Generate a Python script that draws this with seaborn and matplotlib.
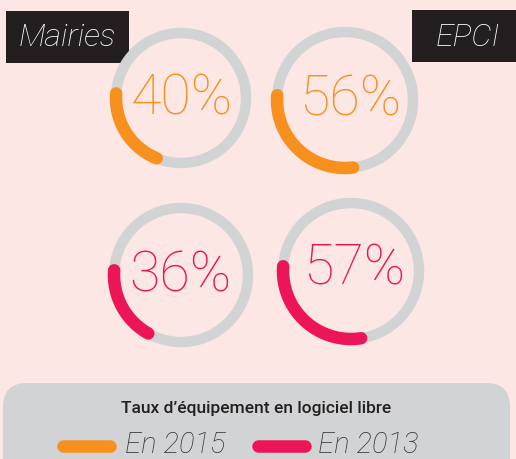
import numpy as np
import pandas as pd
import matplotlib
matplotlib.use("Agg")
import matplotlib.pyplot as plt
from matplotlib.patches import FancyBboxPatch, Rectangle
import seaborn as sns

# ---- data ----
groups = ["Mairies", "EPCI"]
years = ["En 2015", "En 2013"]
values_2015 = [40, 56]
values_2013 = [36, 57]
title = "Taux d\u2019équipement en logiciel libre"

# ---- style ----
BG = "#fde7e5"
GRAY = "#d1d3d4"
ORANGE = "#f7901e"
RED = "#ec1558"
DARK = "#231f20"
year_colors = [ORANGE, RED]

sns.set_theme(style="white")
plt.rcParams["font.family"] = ["Roboto", "DejaVu Sans"]

fig = plt.figure(figsize=(5.16, 4.59), dpi=100, facecolor=BG)
ax = fig.add_axes([0, 0, 1, 1])
ax.set_facecolor(BG)
ax.set_xlim(0, 516)
ax.set_ylim(459, 0)
ax.axis("off")

# layout: centers (px) for [row=year][col=group]
centers = [[(181, 98), (345, 100)], [(181, 275), (351, 271)]]
radii = [[65, 68], [67, 68]]
text_pos = [[(182, 99), (350, 100)], [(180, 276), (354, 269)]]
values = [values_2015, values_2013]

START = 176.0  # degrees (math convention), arc runs counterclockwise (down the left side)
for r_i in range(2):
    for c_i in range(2):
        cx, cy = centers[r_i][c_i]
        rad = radii[r_i][c_i]
        t = np.linspace(0, 2 * np.pi, 361)
        ring = pd.DataFrame({"x": cx + rad * np.cos(t), "y": cy - rad * np.sin(t)})
        sns.lineplot(data=ring, x="x", y="y", sort=False, estimator=None,
                     color=GRAY, linewidth=7.5, ax=ax)
        v = values[r_i][c_i]
        span = v * 1.8
        th = np.deg2rad(np.linspace(START, START + span, 200))
        arc = pd.DataFrame({"x": cx + rad * np.cos(th), "y": cy - rad * np.sin(th)})
        sns.lineplot(data=arc, x="x", y="y", sort=False, estimator=None,
                     color=year_colors[r_i], linewidth=9, solid_capstyle="round", ax=ax)
        tx, ty = text_pos[r_i][c_i]
        ax.text(tx, ty, f"{v}%", color=year_colors[r_i], fontsize=40,
                fontweight="light", ha="center", va="center")

# group labels
ax.add_patch(Rectangle((6, 11), 123, 52, facecolor=DARK, edgecolor="none"))
ax.text(67.5, 38, groups[0], color="white", fontsize=23, style="italic",
        fontweight="light", ha="center", va="center")
ax.add_patch(Rectangle((412, 10), 110, 52, facecolor=DARK, edgecolor="none"))
ax.text(468, 37, groups[1], color="white", fontsize=23, style="italic",
        fontweight="light", ha="center", va="center")

# legend box
ax.add_patch(FancyBboxPatch((3, 383), 507, 110,
                            boxstyle="round,pad=0,rounding_size=24",
                            facecolor=GRAY, edgecolor="none"))
ax.text(256, 409, title, color=DARK, fontsize=12.5, ha="center", va="center",
        fontweight="medium")

legend_x = [(63, 110, 125), (258, 305, 318)]
for (x0, x1, tx), lab, col in zip(legend_x, years, year_colors):
    ax.plot([x0, x1], [446, 446], color=col, linewidth=9, solid_capstyle="round")
    ax.text(tx, 445, lab, color="#333333", fontsize=21, style="italic",
            fontweight="light", ha="left", va="center")

fig.savefig("out.png", dpi=100, facecolor=BG)
